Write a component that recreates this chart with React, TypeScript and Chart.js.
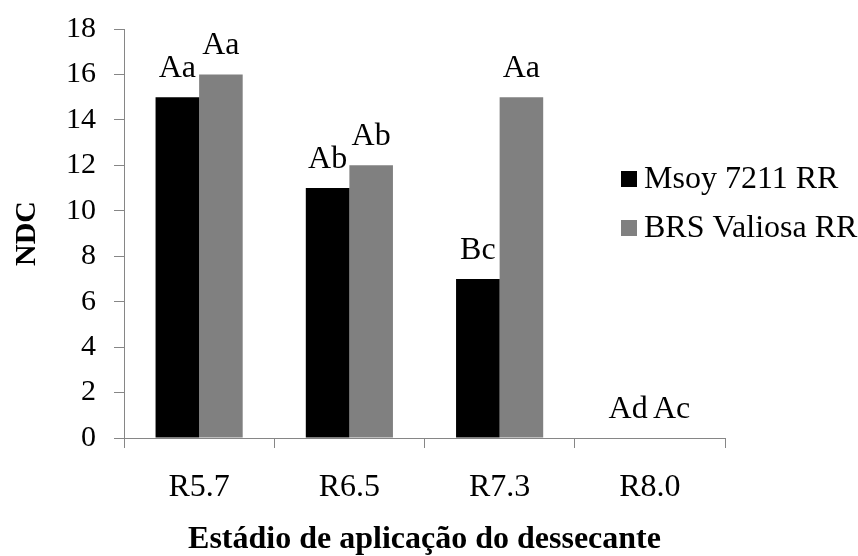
import React, { useEffect, useRef } from "react";
import { Chart, registerables } from "chart.js";

Chart.register(...registerables);

const categories = ["R5.7", "R6.5", "R7.3", "R8.0"];
const seriesNames = ["Msoy 7211 RR", "BRS Valiosa RR"];
const msoyValues = [15, 11, 7, 0];
const brsValues = [16, 12, 15, 0];
const msoyLabels = ["Aa", "Ab", "Bc", "Ad"];
const brsLabels = ["Aa", "Ab", "Aa", "Ac"];
const yTicks = [0, 2, 4, 6, 8, 10, 12, 14, 16, 18];
const colors = ["#000000", "#808080"];

const FONT = '"Liberation Serif", "Times New Roman", serif';
const AXIS_COLOR = "#868686";

const barLabelsPlugin = {
  id: "barLabels",
  afterDatasetsDraw(chart: any) {
    const ctx = chart.ctx;
    const allLabels = [msoyLabels, brsLabels];
    ctx.save();
    ctx.font = `32px ${FONT}`;
    ctx.fillStyle = "#000";
    ctx.textAlign = "center";
    ctx.textBaseline = "alphabetic";
    chart.data.datasets.forEach((ds: any, di: number) => {
      const meta = chart.getDatasetMeta(di);
      meta.data.forEach((bar: any, i: number) => {
        ctx.fillText(allLabels[di][i], bar.x, bar.y - 20);
      });
    });
    ctx.restore();
  },
};

const customLegendPlugin = {
  id: "customLegend",
  afterDraw(chart: any) {
    const ctx = chart.ctx;
    ctx.save();
    ctx.font = `32px ${FONT}`;
    ctx.textAlign = "left";
    ctx.textBaseline = "middle";
    chart.data.datasets.forEach((ds: any, di: number) => {
      const cy = 179 + di * 49;
      ctx.fillStyle = ds.backgroundColor;
      ctx.fillRect(621, cy - 8, 16, 16);
      ctx.fillStyle = "#000";
      ctx.fillText(ds.label, 644, cy + 1);
    });
    ctx.restore();
  },
};

export default function App() {
  const canvasRef = useRef<HTMLCanvasElement | null>(null);

  useEffect(() => {
    document.body.style.margin = "0";
    const canvas = canvasRef.current;
    if (!canvas) return;
    const chart = new Chart(canvas, {
      type: "bar",
      data: {
        labels: categories,
        datasets: [
          {
            label: seriesNames[0],
            data: msoyValues,
            backgroundColor: colors[0],
            borderWidth: 0,
            categoryPercentage: 0.58,
            barPercentage: 1,
          },
          {
            label: seriesNames[1],
            data: brsValues,
            backgroundColor: colors[1],
            borderWidth: 0,
            categoryPercentage: 0.58,
            barPercentage: 1,
          },
        ],
      },
      options: {
        animation: false,
        responsive: false,
        maintainAspectRatio: false,
        layout: { padding: { top: 29, right: 133, left: 0, bottom: 0 } },
        plugins: {
          legend: { display: false },
          tooltip: { enabled: false },
          title: { display: false },
        },
        scales: {
          x: {
            grid: {
              display: true,
              drawOnChartArea: false,
              drawTicks: true,
              tickLength: 10,
              color: AXIS_COLOR,
              offset: true,
            },
            border: { display: true, color: AXIS_COLOR, width: 1 },
            ticks: {
              color: "#000",
              font: { family: FONT, size: 32 },
              padding: 20,
            },
            title: {
              display: true,
              text: "Estádio de aplicação do dessecante",
              color: "#000",
              font: { family: FONT, size: 32, weight: "bold", lineHeight: 1.0 },
              padding: { top: 14, bottom: 0 },
            },
            afterFit(scale: any) {
              scale.height = 118;
              scale.paddingLeft = 0;
              scale.paddingRight = 0;
            },
          },
          y: {
            min: 0,
            max: 18,
            afterBuildTicks(scale: any) {
              scale.ticks = yTicks.map((v) => ({ value: v }));
            },
            grid: {
              display: true,
              drawOnChartArea: false,
              drawTicks: true,
              tickLength: 10,
              color: AXIS_COLOR,
            },
            border: { display: true, color: AXIS_COLOR, width: 1 },
            ticks: {
              color: "#000",
              font: { family: FONT, size: 30 },
              padding: 18,
            },
            title: {
              display: true,
              text: "NDC",
              color: "#000",
              font: { family: FONT, size: 30, weight: "bold" },
              padding: { top: 9, bottom: 0 },
            },
            afterFit(scale: any) {
              scale.width = 124;
              scale.paddingTop = 0;
              scale.paddingBottom = 0;
            },
          },
        },
      },
      plugins: [barLabelsPlugin, customLegendPlugin],
    });
    return () => chart.destroy();
  }, []);

  return (
    <div style={{ width: 858, height: 556, background: "#fff" }}>
      <canvas ref={canvasRef} width={858} height={556} style={{ display: "block" }} />
    </div>
  );
}
